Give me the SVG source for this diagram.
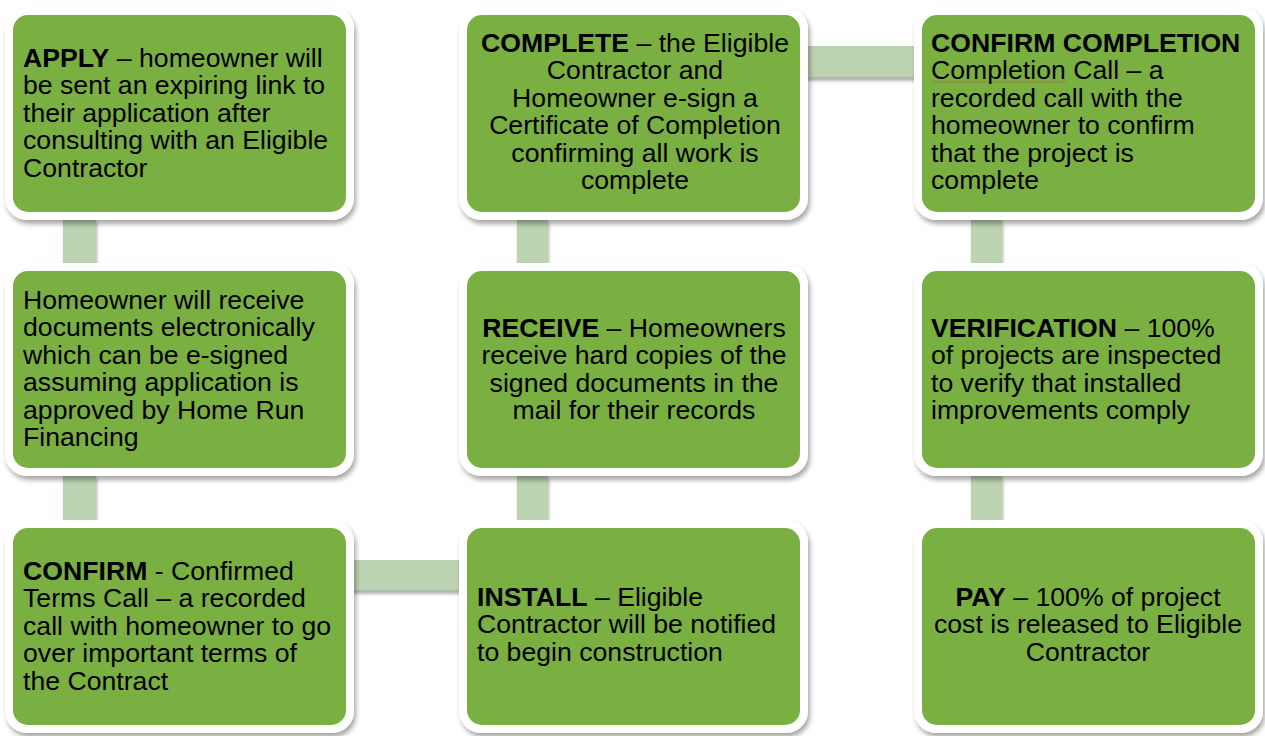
<svg xmlns="http://www.w3.org/2000/svg" width="1265" height="736" viewBox="0 0 1265 736">
<style>
.frame{fill:#ffffff;}
.box{fill:#7aaf42;}
.conn{fill:#bdd4b2;}
text{font-family:"Liberation Sans",Arial,sans-serif;font-size:25.5px;fill:#000;}
.b{font-weight:bold;}
.c{text-anchor:middle;}
</style>
<defs>
<filter id="sh" x="-10%" y="-10%" width="125%" height="130%">
<feGaussianBlur in="SourceAlpha" stdDeviation="2.5"/>
<feOffset dx="2" dy="4" result="o"/>
<feFlood flood-color="#000" flood-opacity="0.35"/>
<feComposite in2="o" operator="in"/>
<feMerge><feMergeNode/><feMergeNode in="SourceGraphic"/></feMerge>
</filter>
<filter id="csh" x="-20%" y="-20%" width="140%" height="160%">
<feGaussianBlur in="SourceAlpha" stdDeviation="1.5"/>
<feOffset dx="1" dy="4" result="o"/>
<feFlood flood-color="#000" flood-opacity="0.3"/>
<feComposite in2="o" operator="in"/>
<feMerge><feMergeNode/><feMergeNode in="SourceGraphic"/></feMerge>
</filter>
</defs>
<rect width="1265" height="736" fill="#ffffff"/>
<g id="connectors" filter="url(#csh)">
<rect class="conn" x="63" y="218" width="33" height="47"/>
<rect class="conn" x="63" y="474" width="33" height="48"/>
<rect class="conn" x="351" y="560" width="111" height="30"/>
<rect class="conn" x="517" y="474" width="31" height="48"/>
<rect class="conn" x="517" y="218" width="31" height="47"/>
<rect class="conn" x="806" y="46" width="109" height="31"/>
<rect class="conn" x="971" y="218" width="31" height="47"/>
<rect class="conn" x="971" y="474" width="31" height="48"/>
</g>
<g id="apply">
<rect class="frame" x="5" y="7" width="349" height="213" rx="22" filter="url(#sh)"/>
<rect class="box" x="13" y="15" width="333" height="197" rx="15"/>
<g transform="translate(23 0) scale(1.045 1)">
<text x="0" y="67"><tspan class="b">APPLY</tspan> – homeowner will</text>
<text x="0" y="94.5">be sent an expiring link to</text>
<text x="0" y="122">their application after</text>
<text x="0" y="149.5">consulting with an Eligible</text>
<text x="0" y="177">Contractor</text>
</g>
</g>
<g id="documents">
<rect class="frame" x="5" y="263" width="349" height="213" rx="22" filter="url(#sh)"/>
<rect class="box" x="13" y="271" width="333" height="197" rx="15"/>
<g transform="translate(23 0) scale(1.045 1)">
<text x="0" y="309">Homeowner will receive</text>
<text x="0" y="336.5">documents electronically</text>
<text x="0" y="364">which can be e-signed</text>
<text x="0" y="391.5">assuming application is</text>
<text x="0" y="419">approved by Home Run</text>
<text x="0" y="446.5">Financing</text>
</g>
</g>
<g id="confirm">
<rect class="frame" x="5" y="520" width="349" height="213" rx="22" filter="url(#sh)"/>
<rect class="box" x="13" y="528" width="333" height="197" rx="15"/>
<g transform="translate(23 0) scale(1.045 1)">
<text x="0" y="580"><tspan class="b">CONFIRM</tspan> - Confirmed</text>
<text x="0" y="607.5">Terms Call – a recorded</text>
<text x="0" y="635">call with homeowner to go</text>
<text x="0" y="662.5">over important terms of</text>
<text x="0" y="690">the Contract</text>
</g>
</g>
<g id="complete">
<rect class="frame" x="459" y="7" width="349" height="213" rx="22" filter="url(#sh)"/>
<rect class="box" x="467" y="15" width="333" height="197" rx="15"/>
<g transform="translate(635 0) scale(1.045 1)">
<text class="c" x="0" y="52"><tspan class="b">COMPLETE</tspan> – the Eligible</text>
<text class="c" x="0" y="79.5">Contractor and</text>
<text class="c" x="0" y="107">Homeowner e-sign a</text>
<text class="c" x="0" y="134.5">Certificate of Completion</text>
<text class="c" x="0" y="162">confirming all work is</text>
<text class="c" x="0" y="189.5">complete</text>
</g>
</g>
<g id="receive">
<rect class="frame" x="459" y="263" width="349" height="213" rx="22" filter="url(#sh)"/>
<rect class="box" x="467" y="271" width="333" height="197" rx="15"/>
<g transform="translate(634 0) scale(1.045 1)">
<text class="c" x="0" y="337"><tspan class="b">RECEIVE</tspan> – Homeowners</text>
<text class="c" x="0" y="364.5">receive hard copies of the</text>
<text class="c" x="0" y="392">signed documents in the</text>
<text class="c" x="0" y="419.5">mail for their records</text>
</g>
</g>
<g id="install">
<rect class="frame" x="459" y="520" width="349" height="213" rx="22" filter="url(#sh)"/>
<rect class="box" x="467" y="528" width="333" height="197" rx="15"/>
<g transform="translate(477 0) scale(1.045 1)">
<text x="0" y="606"><tspan class="b">INSTALL</tspan> – Eligible</text>
<text x="0" y="633.5">Contractor will be notified</text>
<text x="0" y="661">to begin construction</text>
</g>
</g>
<g id="confirm-completion">
<rect class="frame" x="914" y="7" width="349" height="213" rx="22" filter="url(#sh)"/>
<rect class="box" x="922" y="15" width="333" height="197" rx="15"/>
<line x1="932" y1="82" x2="1067" y2="82" stroke="#c9604a" stroke-width="0.8"/>
<g transform="translate(931 0) scale(1.045 1)">
<text class="b" x="0" y="52">CONFIRM COMPLETION</text>
<text x="0" y="79.5">Completion Call – a</text>
<text x="0" y="107">recorded call with the</text>
<text x="0" y="134.5">homeowner to confirm</text>
<text x="0" y="162">that the project is</text>
<text x="0" y="189.5">complete</text>
</g>
</g>
<g id="verification">
<rect class="frame" x="914" y="263" width="349" height="213" rx="22" filter="url(#sh)"/>
<rect class="box" x="922" y="271" width="333" height="197" rx="15"/>
<g transform="translate(931 0) scale(1.045 1)">
<text x="0" y="337"><tspan class="b">VERIFICATION</tspan> – 100%</text>
<text x="0" y="364.5">of projects are inspected</text>
<text x="0" y="392">to verify that installed</text>
<text x="0" y="419.5">improvements comply</text>
</g>
</g>
<g id="pay">
<rect class="frame" x="914" y="520" width="349" height="213" rx="22" filter="url(#sh)"/>
<rect class="box" x="922" y="528" width="333" height="197" rx="15"/>
<g transform="translate(1088 0) scale(1.045 1)">
<text class="c" x="0" y="606"><tspan class="b">PAY</tspan> – 100% of project</text>
<text class="c" x="0" y="633.5">cost is released to Eligible</text>
<text class="c" x="0" y="661">Contractor</text>
</g>
</g>
</svg>
